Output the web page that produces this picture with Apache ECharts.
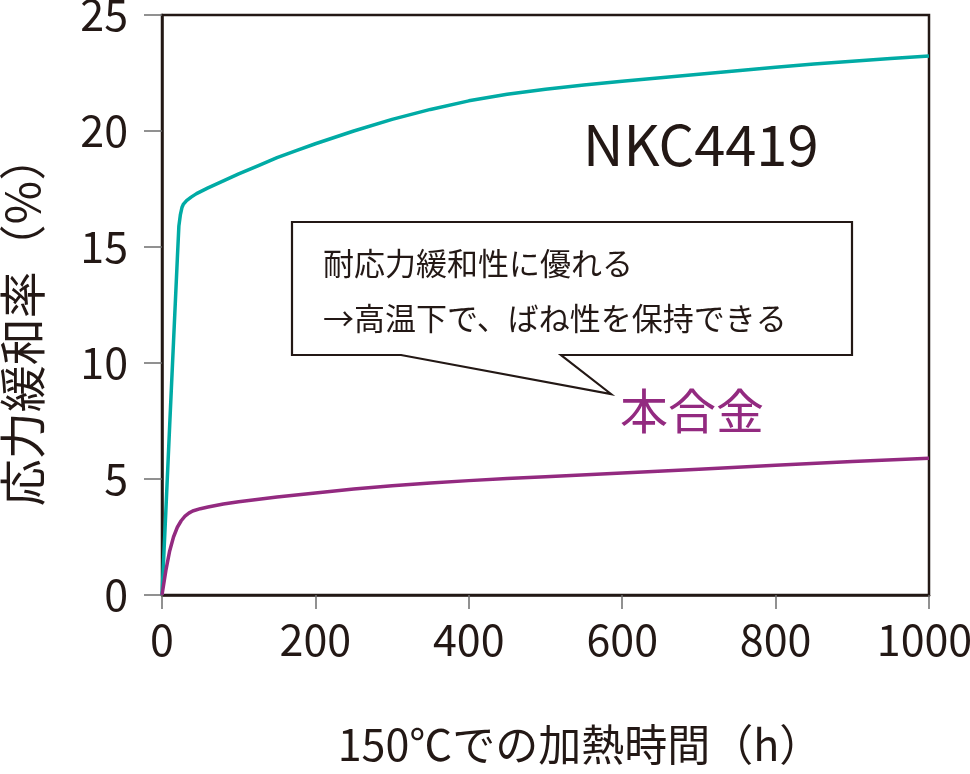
<!DOCTYPE html>
<html>
<head>
<meta charset="utf-8">
<script src="https://cdn.jsdelivr.net/npm/echarts@6/dist/echarts.min.js"></script>
<style>
html,body{margin:0;padding:0;background:#fff;}
#chart{width:970px;height:774px;}
</style>
</head>
<body>
<div id="chart"></div>
<script>
// ---- data ----
var xTicks = [0, 200, 400, 600, 800, 1000];
var yTicks = [0, 5, 10, 15, 20, 25];
var nkcName = 'NKC4419';
var alloyName = '本合金';
var nkcHours  = [0, 5, 10, 15, 20, 22, 24, 26, 28, 32, 38, 45, 60, 80, 100, 125, 150, 175, 200, 250, 300, 350, 400, 450, 500, 550, 600, 650, 700, 750, 800, 850, 900, 950, 1000];
var nkcValues = [0, 3.6, 7.3, 10.9, 14.5, 15.9, 16.4, 16.7, 16.85, 17.0, 17.15, 17.3, 17.55, 17.85, 18.15, 18.5, 18.85, 19.15, 19.45, 20.0, 20.5, 20.93, 21.3, 21.58, 21.8, 21.98, 22.14, 22.3, 22.45, 22.6, 22.75, 22.89, 23.01, 23.12, 23.23];
var alloyHours  = [0, 5, 10, 15, 20, 25, 30, 35, 40, 50, 60, 80, 100, 150, 200, 250, 300, 350, 400, 450, 500, 600, 700, 800, 900, 1000];
var alloyValues = [0, 1.05, 1.9, 2.5, 2.92, 3.2, 3.4, 3.53, 3.62, 3.72, 3.79, 3.92, 4.02, 4.22, 4.4, 4.57, 4.71, 4.83, 4.93, 5.02, 5.1, 5.26, 5.42, 5.59, 5.75, 5.89];
var yTitle = '応力緩和率（%）';
var xTitle = '150℃での加熱時間（h）';
var noteLine1 = '耐応力緩和性に優れる';
var noteLine2 = '→高温下で、ばね性を保持できる';

function pairs(xs, ys){ return xs.map(function(x,i){ return [x, ys[i]]; }); }

var FONT = '"Noto Sans CJK JP", "Noto Sans", sans-serif';
var INK = '#231815';
var TEAL = '#00aba5';
var PURPLE = '#932a80';

var chart = echarts.init(document.getElementById('chart'));
chart.setOption({
  animation: false,
  backgroundColor: '#fff',
  grid: { left: 162, right: 41, top: 15, bottom: 179, outerBoundsMode: 'none', containLabel: false,
          show: true, borderColor: INK, borderWidth: 2.5, backgroundColor: 'transparent' },
  xAxis: {
    type: 'value', min: 0, max: 1000, interval: 200,
    axisLine: { show: true, lineStyle: { color: INK, width: 2.5 } },
    axisTick: { show: true, length: 14, lineStyle: { color: '#6e6e6e', width: 1.5 } },
    splitLine: { show: false },
    axisLabel: { color: INK, fontSize: 43, fontFamily: FONT, margin: 23, hideOverlap: false,
      formatter: function(v){
        if (xTicks.indexOf(v) < 0) return '';
        return v === 1000 ? '{m|' + v + '}' : String(v);
      },
      rich: { m: { color: INK, fontSize: 43, fontFamily: FONT, padding: [0, 9, 0, 0] } } }
  },
  yAxis: {
    type: 'value', min: 0, max: 25, interval: 5,
    axisLine: { show: true, lineStyle: { color: INK, width: 2.5 } },
    axisTick: { show: true, length: 18, lineStyle: { color: '#6e6e6e', width: 1.5 } },
    splitLine: { show: false },
    axisLabel: { color: INK, fontSize: 43, fontFamily: FONT, margin: 34, hideOverlap: false,
      formatter: function(v){ return yTicks.indexOf(v) >= 0 ? String(v) : ''; } }
  },
  series: [
    { name: nkcName, type: 'line', data: pairs(nkcHours, nkcValues), showSymbol: false, symbol: 'none',
      smooth: false, lineStyle: { color: TEAL, width: 3.5, join: 'round' }, z: 3 },
    { name: alloyName, type: 'line', data: pairs(alloyHours, alloyValues), showSymbol: false, symbol: 'none',
      smooth: false, lineStyle: { color: PURPLE, width: 3.5, join: 'round' }, z: 3 }
  ],
  graphic: [
    { type: 'polygon', z: 10,
      shape: { points: [[292,222],[852,222],[852,355],[561,355],[611,394],[401,355],[292,355]] },
      style: { fill: '#fff', stroke: INK, lineWidth: 2.2 } },
    { type: 'text', z: 11, x: 323, y: 263,
      style: { text: noteLine1, fill: INK, font: '31px ' + FONT, textAlign: 'left', textVerticalAlign: 'middle' } },
    { type: 'text', z: 11, x: 323, y: 318,
      style: { text: noteLine2, fill: INK, font: '31px ' + FONT, textAlign: 'left', textVerticalAlign: 'middle' } },
    { type: 'text', z: 11, x: 620, y: 411,
      style: { text: alloyName, fill: PURPLE, font: '48px ' + FONT, textAlign: 'left', textVerticalAlign: 'middle' } },
    { type: 'text', z: 11, x: 583, y: 145,
      style: { text: nkcName, fill: INK, font: '56px ' + FONT, textAlign: 'left', textVerticalAlign: 'middle' } },
    { type: 'text', z: 11, x: 22, y: 320, rotation: Math.PI / 2,
      style: { text: yTitle, fill: INK, font: '47px ' + FONT, textAlign: 'center', textVerticalAlign: 'middle' } },
    { type: 'text', z: 11, x: 580, y: 745,
      style: { text: xTitle, fill: INK, font: '43px ' + FONT, textAlign: 'center', textVerticalAlign: 'middle' } }
  ]
});
</script>
</body>
</html>
